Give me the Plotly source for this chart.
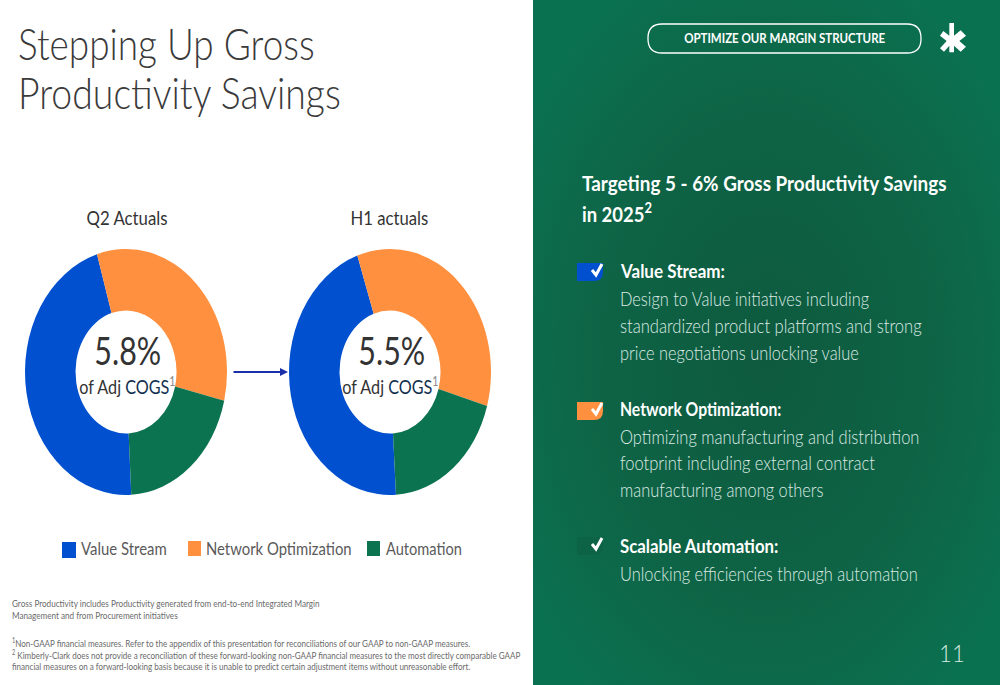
import json
import plotly.graph_objects as go

categories = ["Value Stream", "Network Optimization", "Automation"]
q2_values = [46.2, 33.4, 20.4]
h1_values = [45.7, 34.7, 19.6]
colors = ["#0050D0", "#FF9040", "#0B7350"]
q2_center = "5.8%"
h1_center = "5.5%"

W, H = 1000, 685
def X(v): return v / W
def Y(v): return 1 - v / H

GRAD = ("data:image/svg+xml;utf8,<svg xmlns='http://www.w3.org/2000/svg' width='467' height='685'>"
        "<defs><radialGradient id='g' cx='50%25' cy='52%25' r='62%25'>"
        "<stop offset='0' stop-color='%230E5A3F'/><stop offset='0.55' stop-color='%230E6345'/>"
        "<stop offset='1' stop-color='%230A7150'/></radialGradient></defs>"
        "<rect width='467' height='685' fill='url(%23g)'/></svg>")

fig = go.Figure()
def pie(values, x0, x1, rot, name):
    cy = 372; r = (x1 - x0) / 2
    fig.add_trace(go.Pie(labels=categories, values=values, hole=0.5, sort=False, direction="clockwise",
                         rotation=rot, textinfo="none", showlegend=False, name=name,
                         marker=dict(colors=colors, line=dict(width=0)),
                         domain=dict(x=[X(x0), X(x1)], y=[Y(cy + r), Y(cy - r)])))
pie(q2_values, 25, 227, 177, "Q2 Actuals")
pie(h1_values, 289, 491, 176.6, "H1 actuals")

ann = []
scales = []
def T(x, y, s, size, sx=1.0, color="#333333", anchor="left", weight=400, family="Lato"):
    ann.append(dict(x=X(x), y=Y(y), xref="paper", yref="paper", text=s, showarrow=False, xanchor=anchor,
                    yanchor="middle", align=anchor, font=dict(family=family, size=size, color=color, weight=weight)))
    scales.append(sx)

T(16, 43, "Stepping Up Gross", 44, .84, "#3a3a3a", weight=300)
T(16, 92, "Productivity Savings", 44, .85, "#3a3a3a", weight=300)
T(127, 218, "Q2 Actuals", 19.5, .86, anchor="center")
T(389.5, 218, "H1 actuals", 19.5, .856, anchor="center")
T(128, 350, q2_center, 38, .8, anchor="center")
T(392, 350, h1_center, 38, .8, anchor="center")
cog = "of Adj <span style='color:#12304f'>COGS</span><sup><span style='color:#8a8a8a;font-size:13px'>1</span></sup>"
T(127, 385, cog, 20, .81, anchor="center")
T(390, 385, cog, 20, .81, anchor="center")

GREY = "#5a5a5a"
T(79, 549, categories[0], 16.5, .905, GREY)
T(204, 549, categories[1], 16.5, .90, GREY)
T(384, 549, categories[2], 16.5, .885, GREY)

FN = "#6a6a6a"
T(10, 603, "Gross Productivity includes Productivity generated from end-to-end Integrated Margin", 9.7, .84, FN)
T(10, 615, "Management and from Procurement initiatives", 9.7, .84, FN)
T(10, 642, "<sup>1</sup>Non-GAAP financial measures. Refer to the appendix of this presentation for reconciliations of our GAAP to non-GAAP measures.", 9.7, .83, FN)
T(10, 654, "<sup>2</sup> Kimberly-Clark does not provide a reconciliation of these forward-looking non-GAAP financial measures to the most directly comparable GAAP", 9.7, .83, FN)
T(10, 666, "financial measures on a forward-looking basis because it is unable to predict certain adjustment items without unreasonable effort.", 9.7, .83, FN)

WH = "#ffffff"; SOFT = "#dcebe4"
T(784.5, 38, "OPTIMIZE OUR MARGIN STRUCTURE", 13, .885, WH, "center", 700)
T(580, 182, "Targeting 5 - 6% Gross Productivity Savings", 21, .90, WH, weight=700)
T(580, 212, "in 2025<sup>2</sup>", 21, .88, WH, weight=700)
T(618, 271, "Value Stream:", 18.5, .92, WH, weight=700)
T(618, 298, "Design to Value initiatives including", 19.5, .84, SOFT, weight=300)
T(618, 325, "standardized product platforms and strong", 19.5, .85, SOFT, weight=300)
T(618, 352, "price negotiations unlocking value", 19.5, .84, SOFT, weight=300)
T(618, 409, "Network Optimization:", 18.5, .85, WH, weight=700)
T(618, 436, "Optimizing manufacturing and distribution", 19.5, .845, SOFT, weight=300)
T(618, 462, "footprint including external contract", 19.5, .847, SOFT, weight=300)
T(618, 489, "manufacturing among others", 19.5, .843, SOFT, weight=300)
T(618, 546, "Scalable Automation:", 18.5, .91, WH, weight=700)
T(618, 573, "Unlocking efficiencies through automation", 19.5, .842, SOFT, weight=300)
T(951.5, 652, "11", 24, .92, SOFT, "center", 300)

# arrow
ann.append(dict(x=X(288), y=Y(372), ax=-56, ay=0, xref="paper", yref="paper", axref="pixel", ayref="pixel",
                text="", showarrow=True, arrowhead=2, arrowsize=0.8, arrowwidth=2, arrowcolor="#1a2fa8"))
scales.append(1.0)

shapes = []
def rect(x0, y0, x1, y1, color):
    shapes.append(dict(type="rect", xref="paper", yref="paper", x0=X(x0), x1=X(x1), y0=Y(y0), y1=Y(y1),
                       fillcolor=color, line=dict(width=0)))
def path(cmds, fill=None, line=None, lw=0):
    s = ""
    for c in cmds:
        if isinstance(c, str): s += c + " "
        else: s += f"{X(c[0]):.5f},{Y(c[1]):.5f} "
    shapes.append(dict(type="path", xref="paper", yref="paper", path=s, fillcolor=fill or "rgba(0,0,0,0)",
                       line=dict(width=lw, color=line or "rgba(0,0,0,0)")))

rect(62, 542, 76, 558, colors[0])
rect(188, 541, 201, 556, colors[1])
rect(367, 541, 380, 556, colors[2])

def pill(x0, y0, x1, y1, r):
    path(["M", (x0 + r, y0), "L", (x1 - r, y0), "Q", (x1, y0), (x1, y0 + r), "L", (x1, y1 - r), "Q", (x1, y1), (x1 - r, y1),
          "L", (x0 + r, y1), "Q", (x0, y1), (x0, y1 - r), "L", (x0, y0 + r), "Q", (x0, y0), (x0 + r, y0), "Z"], line="#ffffff", lw=1.3)
pill(648, 24, 921, 53, 14)

def badge(y, color):
    path(["M", (577, y), "L", (603, y), "L", (603, y + 9), "Q", (603, y + 18), (594, y + 18), "L", (577, y + 18), "Z"], fill=color)
    path(["M", (592, y + 7), "L", (596, y + 12), "L", (602, y + 1)], line="#ffffff", lw=3)
badge(263, colors[0])
badge(402, colors[1])
badge(537, "#0C6346")

# logo, outline
zoom_logo = [(58,24),(72,24),(72,62),(92,46),(108,62),(88,78),(108,95),(92,110),(72,92),(72,112),(58,112),
             (58,92),(42,110),(30,100),(50,78),(30,62),(40,48),(58,62)]
cmds = []
for i, (a, b) in enumerate(zoom_logo):
    cmds += ["M" if i == 0 else "L", (930 + a / 3, 15 + b / 3)]
path(cmds + ["Z"], fill="#ffffff")

images = [dict(source=GRAD, xref="paper", yref="paper", x=X(533), y=1, sizex=X(467), sizey=1,
               sizing="stretch", xanchor="left", yanchor="top", layer="below")]

fig.update_layout(width=W, height=H, margin=dict(l=0, r=0, t=0, b=0), autosize=False,
                  paper_bgcolor="#ffffff", plot_bgcolor="#ffffff", showlegend=False,
                  annotations=ann, shapes=shapes, images=images,
                  xaxis=dict(visible=False, range=[0, 1]), yaxis=dict(visible=False, range=[0, 1]))

post = """
document.body.style.margin='0';
var k=246/202, cy=372;
var g=document.querySelector('.pielayer');
if(g){g.setAttribute('transform','translate(0,'+cy+') scale(1,'+k+') translate(0,'+(-cy)+')');}
var S=%s;
document.querySelectorAll('.annotation').forEach(function(a){
  var i=+a.getAttribute('data-index'); var t=a.querySelector('text.annotation-text')||a.querySelector('text');
  if(!t||S[i]===1) return;
  var x=parseFloat(t.getAttribute('x'))||0;
  var old=t.getAttribute('transform')||'';
  t.setAttribute('transform',old+' translate('+x+',0) scale('+S[i]+',1) translate('+(-x)+',0)');
});
""" % json.dumps(scales)
fig.write_html("out.html", post_script=post, config=dict(displayModeBar=False))
